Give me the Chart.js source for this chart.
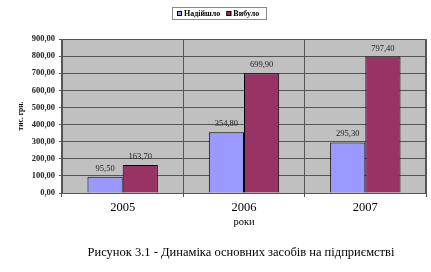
<!DOCTYPE html>
<html>
<head>
<meta charset="utf-8">
<script src="https://cdn.jsdelivr.net/npm/chart.js@4"></script>
<style>
  html, body { margin: 0; padding: 0; background: #fff; }
  #wrap { width: 431px; height: 272px; }
</style>
</head>
<body>
<div id="wrap"><canvas id="grafico"></canvas></div>
<script>
const roky = ["2005", "2006", "2007"];
const nadiishlo = [95.5, 354.8, 295.3];
const vybulo = [163.7, 699.9, 797.4];
const nazvySerii = ["Надійшло", "Вибуло"];
const pidpys = "Рисунок 3.1 - Динаміка основних засобів на підприємстві";

const serif = "'Liberation Serif', 'Times New Roman', serif";
const fmt = v => v.toFixed(2).replace(".", ",");

// фон області побудови + підписи значень + легенда в рамці + підпис рисунка
const excelStyle = {
    id: "excelStyle",
    beforeDraw(chart) {
        const { ctx, chartArea: a } = chart;
        ctx.save();
        ctx.fillStyle = "#c0c0c0";
        ctx.fillRect(a.left, a.top, a.right - a.left, a.bottom - a.top);
        ctx.restore();
    },
    afterDatasetsDraw(chart) {
        const ctx = chart.ctx;
        ctx.save();
        ctx.font = "8.5px " + serif;
        ctx.fillStyle = "#222";
        ctx.textAlign = "center";
        ctx.textBaseline = "bottom";
        chart.data.datasets.forEach((ds, i) => {
            chart.getDatasetMeta(i).data.forEach((bar, j) => {
                ctx.fillText(fmt(ds.data[j]), bar.x, bar.y - 4);
            });
        });
        ctx.restore();
    },
    afterDraw(chart) {
        const ctx = chart.ctx;
        const a = chart.chartArea;
        ctx.save();
        // рамка області
        ctx.strokeStyle = "#555";
        ctx.lineWidth = 1;
        ctx.strokeRect(a.left + 0.5, a.top + 0.5, a.right - a.left - 1, a.bottom - a.top);
        // легенда
        const lx = 172, ly = 7, lw = 94, lh = 12;
        ctx.strokeStyle = "#888";
        ctx.strokeRect(lx + 0.5, ly + 0.5, lw, lh);
        ctx.font = "bold 8px " + serif;
        ctx.textBaseline = "middle";
        ctx.textAlign = "left";
        let x = lx + 5;
        chart.data.datasets.forEach(ds => {
            ctx.fillStyle = ds.backgroundColor;
            ctx.fillRect(x, ly + 4, 5, 5);
            ctx.strokeStyle = "#000";
            ctx.strokeRect(x + 0.5, ly + 4.5, 4, 4);
            ctx.fillStyle = "#000";
            ctx.fillText(ds.label, x + 7, ly + 6.8);
            x += ctx.measureText(ds.label).width + 13;
        });
        // підпис рисунка
        ctx.font = "12.5px " + serif;
        ctx.textAlign = "center";
        ctx.fillStyle = "#000";
        ctx.fillText(pidpys, 241, 253);
        ctx.restore();
    }
};

new Chart(document.getElementById("grafico"), {
    type: "bar",
    data: {
        labels: roky,
        datasets: [{
            label: nazvySerii[0],
            data: nadiishlo,
            backgroundColor: "#9999ff",
            borderColor: "#000",
            borderWidth: 1,
            categoryPercentage: 0.58,
            barPercentage: 1
        }, {
            label: nazvySerii[1],
            data: vybulo,
            backgroundColor: "#993366",
            borderColor: "#000",
            borderWidth: 1,
            categoryPercentage: 0.58,
            barPercentage: 1
        }]
    },
    options: {
        responsive: true,
        maintainAspectRatio: false,
        animation: false,
        layout: { padding: { top: 39, right: 5, left: 0, bottom: 27 } },
        plugins: {
            legend: { display: false },
            tooltip: { enabled: false },
            title: { display: false }
        },
        scales: {
            x: {
                afterFit: s => { s.height = 52; },
                grid: { color: "#555", tickLength: 4, offset: true, drawOnChartArea: true },
                border: { color: "#555" },
                ticks: { color: "#000", padding: 3, font: { family: serif, size: 12.5 } },
                title: {
                    display: true, text: "роки", color: "#000",
                    font: { family: serif, size: 10.5 },
                    padding: { top: 0, bottom: 16 }
                }
            },
            y: {
                min: 0,
                max: 900,
                afterFit: s => { s.width = 62; },
                grid: { color: "#555", tickLength: 3 },
                border: { color: "#555" },
                ticks: {
                    stepSize: 100,
                    color: "#222",
                    padding: 4,
                    font: { family: serif, size: 8.5, weight: "bold" },
                    callback: v => fmt(v)
                },
                title: {
                    display: true, text: "тис. грн.", color: "#000",
                    font: { family: serif, size: 7.5, weight: "bold" },
                    padding: { top: 17, bottom: 0 }
                }
            }
        }
    },
    plugins: [excelStyle]
});
</script>
</body>
</html>
